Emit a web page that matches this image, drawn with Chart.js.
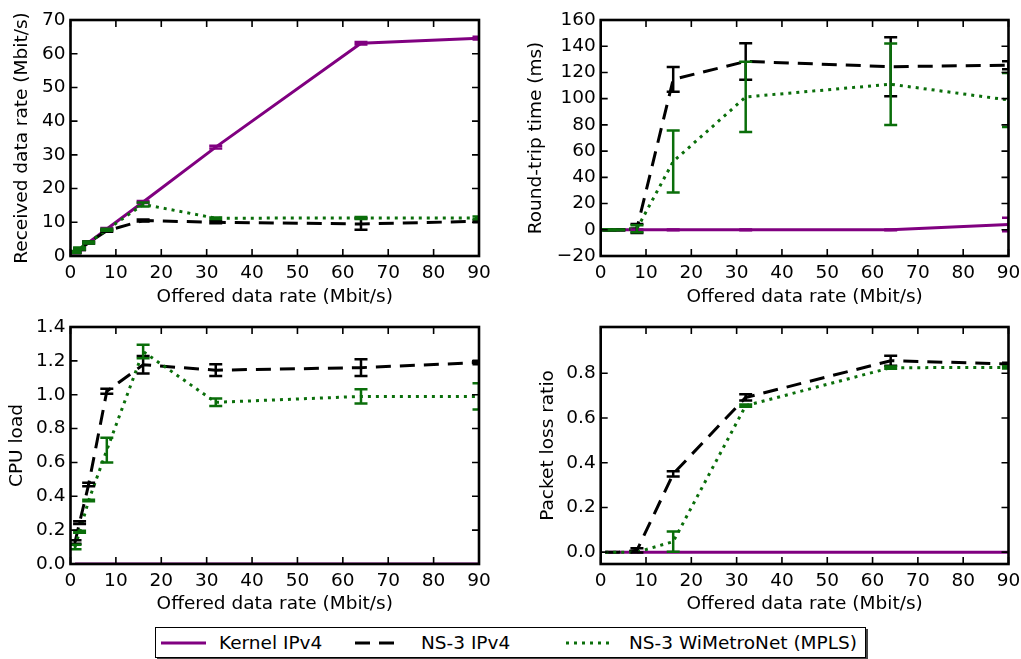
<!DOCTYPE html>
<html><head><meta charset="utf-8">
<script src="https://cdn.jsdelivr.net/npm/chart.js@4.4.0/dist/chart.umd.min.js"></script>
<style>
html,body{margin:0;padding:0;background:#fff;width:1021px;height:659px;overflow:hidden;font-family:"DejaVu Sans";}
canvas{position:absolute;}
#legend{position:absolute;left:155px;top:627px;width:709px;height:29px;border:1px solid #000;box-shadow:2px 2px 0 #444;background:#fff;font-size:18.5px;font-family:"DejaVu Sans";}
.item{position:absolute;top:0;height:29px;line-height:29px;white-space:nowrap;color:#000;}
.item svg{position:absolute;top:0;}
</style></head><body>
<canvas id="c1" width="500" height="310" style="left:0;top:0"></canvas>
<canvas id="c2" width="521" height="310" style="left:510px;top:0"></canvas>
<canvas id="c3" width="500" height="310" style="left:0;top:310px"></canvas>
<canvas id="c4" width="521" height="310" style="left:510px;top:310px"></canvas>
<div id="legend"></div>
<script>
// ---------- data ----------
const seriesNames = ["Kernel IPv4", "NS-3 IPv4", "NS-3 WiMetroNet (MPLS)"];
const xValues = [1, 2, 4, 8, 16, 32, 64, 90];
const xTicks = [0, 10, 20, 30, 40, 50, 60, 70, 80, 90];
const xTitle = "Offered data rate (Mbit/s)";

// Received data rate (Mbit/s)
const rxKernel    = [1, 2, 4, 8, 16, 32.3, 63.1, 64.6];
const rxKernelErr = [0.2, 0.2, 0.2, 0.3, 0.3, 0.4, 0.4, 0.4];
const rxNs3       = [1, 2, 4, 7.5, 10.5, 10.0, 9.5, 10.3];
const rxNs3Err    = [0.1, 0.2, 0.3, 0.3, 0.3, 0.3, 1.7, 0.3];
const rxWmn       = [1.2, 2.2, 4.0, 7.8, 15.3, 11.2, 11.3, 11.3];
const rxWmnErr    = [0.3, 0.3, 0.3, 0.3, 0.6, 0.2, 0.3, 0.4];
const rxTicks     = [0, 10, 20, 30, 40, 50, 60, 70];

// Round-trip time (ms)
const rttKernel    = [0, 0, 0, 0, 0, 0, 0, 4];
const rttKernelErr = [0.3, 0.3, 0.3, 0.3, 0.3, 0.3, 0.3, 5.1];
const rttNs3       = [0, 0, 0, 1, 114.7, 128.4, 124.4, 125.5];
const rttNs3Err    = [0.3, 0.3, 0.3, 3.5, 9.5, 13.9, 22.5, 3];
const rttWmn       = [0, 0, 0, 0.8, 52.1, 101.3, 111.0, 99.0];
const rttWmnErr    = [0.3, 0.3, 0.3, 2.6, 23.7, 26.8, 31.0, 20.6];
const rttTicks     = [-20, 0, 20, 40, 60, 80, 100, 120, 140, 160];

// CPU load
const cpuKernel    = [0, 0, 0, 0, 0, 0, 0, 0];
const cpuKernelErr = [0, 0, 0, 0, 0, 0, 0, 0];
const cpuNs3       = [0.13, 0.245, 0.47, 1.02, 1.177, 1.145, 1.16, 1.19];
const cpuNs3Err    = [0.01, 0.008, 0.01, 0.015, 0.052, 0.035, 0.05, 0.01];
const cpuWmn       = [0.10, 0.19, 0.375, 0.673, 1.255, 0.955, 0.99, 0.99];
const cpuWmnErr    = [0.013, 0.006, 0.005, 0.073, 0.04, 0.022, 0.042, 0.078];
const cpuTicks     = [0, 0.2, 0.4, 0.6, 0.8, 1.0, 1.2, 1.4];

// Packet loss ratio
const lossKernel    = [0, 0, 0, 0, 0, 0, 0, 0];
const lossKernelErr = [0, 0, 0, 0, 0, 0, 0, 0];
const lossNs3       = [0, 0, 0, 0.008, 0.35, 0.692, 0.856, 0.842];
const lossNs3Err    = [0, 0, 0, 0.01, 0.012, 0.014, 0.022, 0.005];
const lossWmn       = [0, 0, 0, 0, 0.047, 0.655, 0.825, 0.826];
const lossWmnErr    = [0, 0, 0, 0, 0.045, 0.005, 0.005, 0.005];
const lossTicks     = [0, 0.2, 0.4, 0.6, 0.8];

// ---------- styles ----------
const COL_K = '#800080', COL_N = '#000000', COL_W = '#0a6e0a';
const FONT = "'DejaVu Sans'";
Chart.defaults.font.family = FONT;
Chart.defaults.color = '#000';

const pts = arr => xValues.map((x, i) => ({x, y: arr[i]}));

const framePlugin = {
  id: 'frameErr',
  afterDatasetsDraw(chart) {
    const {ctx, chartArea: a, scales: {x, y}} = chart;
    ctx.save();
    ctx.beginPath();
    ctx.rect(a.left, a.top, a.right - a.left, a.bottom - a.top);
    ctx.clip();
    ctx.setLineDash([]);
    chart.data.datasets.forEach(ds => {
      if (!ds.errors) return;
      ctx.strokeStyle = ds.borderColor;
      ctx.lineWidth = 2.5;
      ds.data.forEach((p, j) => {
        const e = ds.errors[j];
        if (!e) return;
        const px = x.getPixelForValue(p.x);
        const y1 = y.getPixelForValue(p.y - e), y2 = y.getPixelForValue(p.y + e);
        ctx.beginPath();
        ctx.moveTo(px, y1); ctx.lineTo(px, y2);
        ctx.moveTo(px - 6.5, y1); ctx.lineTo(px + 6.5, y1);
        ctx.moveTo(px - 6.5, y2); ctx.lineTo(px + 6.5, y2);
        ctx.stroke();
      });
    });
    ctx.restore();
    // frame + inward ticks
    ctx.save();
    ctx.strokeStyle = '#000';
    ctx.lineWidth = 1.6;
    ctx.beginPath();
    x.ticks.forEach(t => {
      const px = x.getPixelForValue(t.value);
      ctx.moveTo(px, a.bottom); ctx.lineTo(px, a.bottom - 7);
      ctx.moveTo(px, a.top); ctx.lineTo(px, a.top + 7);
    });
    y.ticks.forEach(t => {
      const py = y.getPixelForValue(t.value);
      ctx.moveTo(a.left, py); ctx.lineTo(a.left + 7, py);
      ctx.moveTo(a.right, py); ctx.lineTo(a.right - 7, py);
    });
    ctx.stroke();
    ctx.lineWidth = 2.6;
    ctx.strokeRect(a.left, a.top, a.right - a.left, a.bottom - a.top);
    ctx.restore();
  }
};

function makePanel(id, cfg) {
  const W = cfg.w, H = cfg.h, A = cfg.area;
  const fmt = cfg.fmt;
  new Chart(document.getElementById(id), {
    type: 'line',
    data: {
      datasets: [
        {label: seriesNames[0], data: pts(cfg.k), errors: cfg.ke, borderColor: COL_K, borderWidth: 3, order: 3},
        {label: seriesNames[1], data: pts(cfg.n), errors: cfg.ne, borderColor: COL_N, borderWidth: 3, borderDash: [15, 9], order: 2},
        {label: seriesNames[2], data: pts(cfg.wm), errors: cfg.we, borderColor: COL_W, borderWidth: 3, borderDash: [3, 5], order: 1}
      ].map(d => Object.assign(d, {pointRadius: 0, tension: 0, fill: false, clip: 0, borderCapStyle: 'butt'}))
    },
    options: {
      responsive: false,
      animation: false,
      events: [],
      layout: {padding: {left: 0, top: A.t, right: W - A.r, bottom: 0}},
      plugins: {legend: {display: false}, tooltip: {enabled: false}},
      scales: {
        x: {
          type: 'linear', min: 0, max: 90,
          afterBuildTicks: s => { s.ticks = xTicks.map(v => ({value: v})); },
          afterFit: s => { s.height = H - A.b; },
          grid: {display: false, drawTicks: false},
          border: {display: false},
          ticks: {font: {size: 18.5}, padding: 6, maxRotation: 0, color: '#000', callback: v => String(v)},
          title: {display: true, text: xTitle, font: {size: 18.5}, color: '#000', padding: {top: 0, bottom: cfg.xtb}}
        },
        y: {
          type: 'linear', min: cfg.ymin, max: cfg.ymax,
          afterBuildTicks: s => { s.ticks = cfg.yt.map(v => ({value: v})); },
          afterFit: s => { s.width = A.l; },
          grid: {display: false, drawTicks: false},
          border: {display: false},
          ticks: {font: {size: 18.5}, padding: 5, color: '#000', callback: v => fmt(v)},
          title: {display: true, text: cfg.yTitle, font: {size: 18.5}, color: '#000', padding: {top: cfg.ytp, bottom: 0}}
        }
      }
    },
    plugins: [framePlugin]
  });
}

const intFmt = v => (v < 0 ? '\u2212' + Math.abs(v) : String(v));
const decFmt = v => (v < 0 ? '\u2212' + Math.abs(v).toFixed(1) : v.toFixed(1));

makePanel('c1', {w: 500, h: 310, area: {l: 70.5, t: 20, r: 479, b: 256},
  ymin: 0, ymax: 70, yt: rxTicks, fmt: intFmt, yTitle: 'Received data rate (Mbit/s)', ytp: 10.9, xtb: 1.4,
  k: rxKernel, ke: rxKernelErr, n: rxNs3, ne: rxNs3Err, wm: rxWmn, we: rxWmnErr});
makePanel('c2', {w: 521, h: 310, area: {l: 90.7, t: 20, r: 498.5, b: 256},
  ymin: -20, ymax: 160, yt: rttTicks, fmt: intFmt, yTitle: 'Round-trip time (ms)', ytp: 14.9, xtb: 1.4,
  k: rttKernel, ke: rttKernelErr, n: rttNs3, ne: rttNs3Err, wm: rttWmn, we: rttWmnErr});
makePanel('c3', {w: 500, h: 310, area: {l: 70.5, t: 17, r: 479, b: 254},
  ymin: 0, ymax: 1.4, yt: cpuTicks, fmt: decFmt, yTitle: 'CPU load', ytp: 6.4, xtb: 4.4,
  k: cpuKernel, ke: cpuKernelErr, n: cpuNs3, ne: cpuNs3Err, wm: cpuWmn, we: cpuWmnErr});
makePanel('c4', {w: 521, h: 310, area: {l: 90.7, t: 17, r: 498.5, b: 254},
  ymin: -0.053, ymax: 1.007, yt: lossTicks, fmt: decFmt, yTitle: 'Packet loss ratio', ytp: 26.9, xtb: 4.4,
  k: lossKernel, ke: lossKernelErr, n: lossNs3, ne: lossNs3Err, wm: lossWmn, we: lossWmnErr});

// ---------- legend ----------
const legendItems = [
  {name: seriesNames[0], color: COL_K, dash: '', lineX: 5, textX: 63},
  {name: seriesNames[1], color: COL_N, dash: '15,9', lineX: 199, textX: 265},
  {name: seriesNames[2], color: COL_W, dash: '3,5', lineX: 410, textX: 473}
];
const leg = document.getElementById('legend');
legendItems.forEach(it => {
  const line = document.createElementNS('http://www.w3.org/2000/svg', 'svg');
  line.setAttribute('width', 46); line.setAttribute('height', 29);
  line.style.left = it.lineX + 'px';
  line.innerHTML = `<line x1="0" y1="15" x2="45" y2="15" stroke="${it.color}" stroke-width="3" ${it.dash ? `stroke-dasharray="${it.dash}"` : ''}/>`;
  const wrap = document.createElement('div');
  wrap.className = 'item'; wrap.style.left = '0px';
  wrap.appendChild(line);
  leg.appendChild(wrap);
  const txt = document.createElement('div');
  txt.className = 'item'; txt.style.left = it.textX + 'px';
  txt.textContent = it.name;
  leg.appendChild(txt);
});
</script>
</body></html>
